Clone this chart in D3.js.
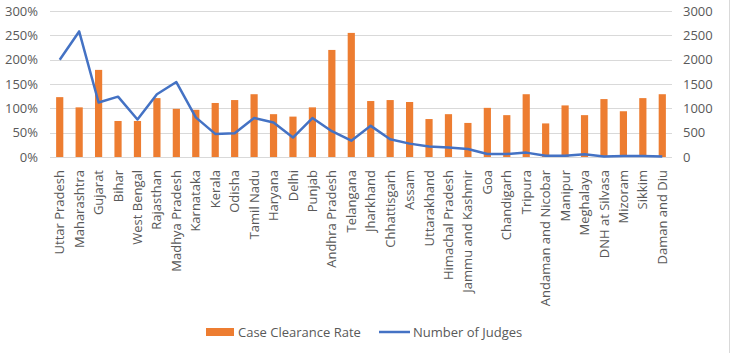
<!DOCTYPE html>
<html><head><meta charset="utf-8">
<script src="https://cdn.jsdelivr.net/npm/d3@7"></script>
<style>
body{margin:0;background:#fff;}
text{font-family:"Open Sans","Noto Sans",sans-serif;fill:#595959;}
</style></head><body>
<svg id="c" width="738" height="353"></svg>
<script>
const categories=["Uttar Pradesh","Maharashtra","Gujarat","Bihar","West Bengal","Rajasthan","Madhya Pradesh","Karnataka","Kerala","Odisha","Tamil Nadu","Haryana","Delhi","Punjab","Andhra Pradesh","Telangana","Jharkhand","Chhattisgarh","Assam","Uttarakhand","Himachal Pradesh","Jammu and Kashmir","Goa","Chandigarh","Tripura","Andaman and Nicobar","Manipur","Meghalaya","DNH at Silvasa","Mizoram","Sikkim","Daman and Diu"];
const clearanceRate=[123,102,179,74,74,121,99,97,111,117,129,88,83,102,220,255,115,117,113,78,88,70,101,86,129,69,106,86,119,94,121,129];
const judges=[2000,2580,1120,1240,770,1290,1540,815,475,490,800,710,400,800,530,335,640,365,275,215,195,165,60,60,90,25,25,55,10,20,20,10];
const leftTicks=[0,50,100,150,200,250,300];
const rightTicks=[0,500,1000,1500,2000,2500,3000];
const seriesNames=["Case Clearance Rate","Number of Judges"];

const svg=d3.select("#c");
const L=50,R=672,T=11,B=157;
const x=d3.scaleBand().domain(categories).range([L,R]).paddingInner(0.63).paddingOuter(0.315);
const yL=d3.scaleLinear().domain([0,300]).range([B,T]);
const yR=d3.scaleLinear().domain([0,3000]).range([B,T]);

// border line at right
svg.append("line").attr("x1",729.5).attr("x2",729.5).attr("y1",0).attr("y2",353).attr("stroke","#d9d9d9");

// gridlines
svg.append("g").selectAll("line").data(leftTicks).join("line")
 .attr("x1",L).attr("x2",R).attr("y1",d=>Math.round(yL(d))+0.5).attr("y2",d=>Math.round(yL(d))+0.5)
 .attr("stroke","#d9d9d9").attr("stroke-width",1);

// left axis
const axL=svg.append("g").attr("transform",`translate(${L},0)`)
 .call(d3.axisLeft(yL).tickValues(leftTicks).tickFormat(d=>d+"%").tickSize(0).tickPadding(12));
axL.select(".domain").remove();
axL.selectAll("text").attr("font-size",13).attr("fill","#595959");

// right axis
const axR=svg.append("g").attr("transform",`translate(${R},0)`)
 .call(d3.axisRight(yR).tickValues(rightTicks).tickFormat(d3.format("d")).tickSize(0).tickPadding(11));
axR.select(".domain").remove();
axR.selectAll("text").attr("font-size",13).attr("fill","#595959");

// bars
svg.append("g").selectAll("rect").data(categories).join("rect")
 .attr("x",d=>x(d)).attr("width",x.bandwidth())
 .attr("y",(d,i)=>yL(clearanceRate[i])).attr("height",(d,i)=>B-yL(clearanceRate[i]))
 .attr("fill","#ED7D31");

// line
const line=d3.line().x((d,i)=>x(categories[i])+x.bandwidth()/2).y(d=>yR(d));
svg.append("path").datum(judges).attr("d",line).attr("fill","none")
 .attr("stroke","#4472C4").attr("stroke-width",2.5).attr("stroke-linejoin","round");

// x labels
const axB=svg.append("g").attr("transform",`translate(0,${B})`)
 .call(d3.axisBottom(x).tickSize(0).tickPadding(0));
axB.select(".domain").remove();
axB.selectAll("text").attr("font-size",13).attr("fill","#595959")
 .attr("text-anchor","end").attr("dy","0.35em")
 .attr("transform","translate(0,13) rotate(-90)").attr("y",0).attr("x",0);

// legend
const lg=svg.append("g").attr("transform","translate(0,332)");
lg.append("rect").attr("x",206).attr("y",-4).attr("width",28).attr("height",8).attr("fill","#ED7D31");
lg.append("text").attr("x",238).attr("y",0).attr("dy","0.35em").attr("font-size",13).text(seriesNames[0]);
lg.append("line").attr("x1",379).attr("x2",410).attr("y1",0).attr("y2",0).attr("stroke","#4472C4").attr("stroke-width",2.5);
lg.append("text").attr("x",413).attr("y",0).attr("dy","0.35em").attr("font-size",13).text(seriesNames[1]);
</script></body></html>
